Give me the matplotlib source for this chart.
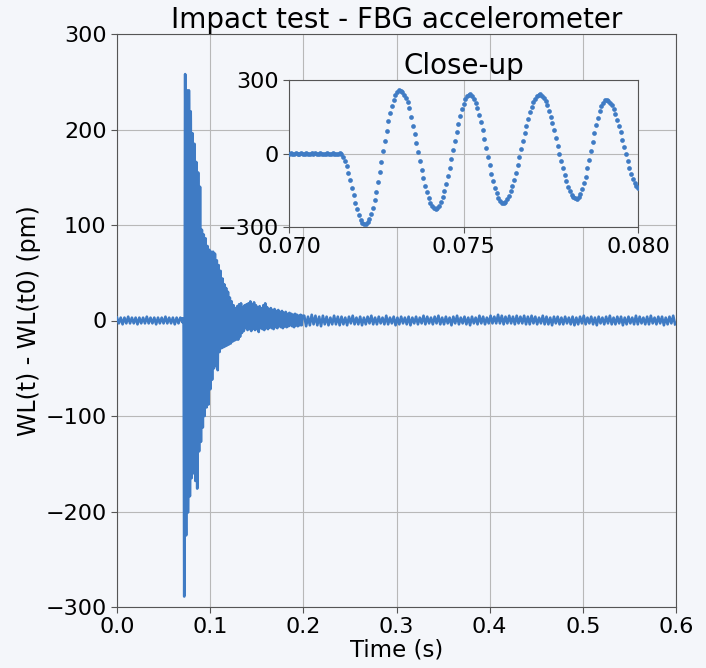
import numpy as np
import matplotlib
matplotlib.use("Agg")
import matplotlib.pyplot as plt

# ---------------- data ----------------
# baseline before the impact, sampled every 2 ms from t = 0
pre_noise = [3, -3, 3, -4, 3, -3, 4, -3, 3, -3, 3, -4, 3, -3, 3, -3, 4, -3, 3, -3,
             3, -4, 3, -3, 3, -3, 4, -3, 3, -3, 3, -4, 3, -3, 3]

# close-up samples 0.070 .. 0.080 s (20 kHz)
closeup_values = [
    0, 1, -1, 0, 2, -1, 0, 1, 0, -2, 1, 0, -1, 1, 0, 2, 0, -1, 1, 0, -1, 0, 1, -1, 0, 1, 0, -1, 0, 1,
    -3, -14, -30, -52, -78, -107, -139, -170, -201, -228, -252, -271, -283, -289,
    -289, -281, -268, -247, -222, -191, -156, -117, -76, -33, 10, 52, 93, 131, 165, 195, 220, 239, 251, 258,
    257, 251, 240, 228, 212, 186, 150, 113, 78, 42, 5, -31, -67, -100, -131, -158, -182, -200, -214, -222, -225,
    -222, -213, -199, -179, -154, -125, -93, -58, -22, 16, 53, 89, 122, 153, 180, 203, 221, 233, 240,
    241, 235, 224, 207, 185, 159, 128, 95, 60, 24, -13, -48, -82, -113, -140, -163, -181, -193, -200,
    -201, -196, -187, -173, -155, -133, -107, -79, -48, -16, 17, 50, 82, 113, 142, 168, 191, 210, 224, 235, 240,
    241, 236, 227, 214, 197, 175, 151, 124, 94, 63, 32, 0, -31, -61, -89, -114, -136, -154, -168, -178, -183,
    -184, -177, -165, -146, -122, -94, -61, -26, 10, 47, 83, 116, 146, 173, 193, 208, 217,
    219, 216, 208, 196, 180, 161, 138, 113, 86, 57, 28, -2, -31, -59, -84, -105, -122, -133, -142,
]

# decaying ringing after 0.080 s: one peak and one trough per 2 ms cycle
ring_peaks = [196, 185, 166, 155, 140, 95, 90, 86, 78, 74,
              72, 72, 70, 63, 58, 52, 44, 38, 34, 30,
              24, 20, 16, 13, 15, 17, 18, 14, 16, 17,
              18, 20, 17, 19, 16, 14, 15, 13, 16, 18,
              14, 12, 13, 11, 12, 10, 11, 9, 10, 8,
              9, 7, 8, 7, 6, 7, 6, 5, 6, 5]
ring_troughs = [-165, -160, -168, -176, -137, -127, -112, -100, -91, -88,
                -72, -62, -50, -47, -52, -33, -29, -28, -27, -26,
                -25, -24, -22, -21, -20, -20, -17, -13, -11, -8,
                -10, -9, -11, -8, -10, -9, -12, -8, -9, -10,
                -8, -9, -7, -8, -9, -7, -8, -6, -7, -8,
                -6, -7, -6, -5, -6, -7, -5, -6, -5, -5]

# baseline after the ringing, sampled every 2 ms from 0.201 s
post_noise = [
    5, -6, 4, -5, 6, -4, 5, -5, 4, -6, 5, -4, 4, -5, 3, -4, 5, -4, 4, -5,
    4, -4, 3, -5, 4, -3, 5, -4, 3, -4, 4, -5, 3, -4, 4, -3, 5, -4, 3, -4,
    4, -3, 3, -4, 5, -4, 3, -3, 4, -5, 3, -4, 4, -3, 3, -4, 4, -5, 3, -3,
    4, -4, 3, -3, 5, -4, 4, -3, 3, -4, 4, -3, 5, -4, 3, -4, 4, -3, 3, -5,
    4, -3, 5, -4, 3, -3, 4, -4, 3, -5, 4, -3, 3, -4, 5, -3, 4, -4, 3, -3,
    5, -3, 4, -3, 6, -3, 5, -4, 4, -3, 5, -3, 4, -4, 5, -3, 4, -3, 5, -4,
    4, -4, 5, -3, 4, -4, 3, -3, 5, -4, 4, -4, 3, -5, 4, -3, 4, -4, 3, -4,
    4, -3, 3, -4, 4, -5, 3, -4, 4, -3, 5, -4, 3, -3, 4, -4, 3, -5, 4, -3,
    3, -4, 4, -3, 5, -4, 3, -4, 4, -3, 4, -5, 3, -4, 4, -3, 3, -4, 5, -4,
    4, -3, 3, -4, 4, -4, 5, -3, 3, -4, 4, -3, 4, -5, 3, -4, 4, -3, 5, -4,
]

x_ticks = [0.0, 0.1, 0.2, 0.3, 0.4, 0.5, 0.6]
y_ticks = [-300, -200, -100, 0, 100, 200, 300]
inset_x_ticks = [0.070, 0.075, 0.080]
inset_y_ticks = [-300, 0, 300]

# ---------------- assemble series ----------------
t_pre = 0.002 * np.arange(len(pre_noise))
t_close = np.linspace(0.070, 0.080, len(closeup_values))
ring_v = np.empty(2 * len(ring_peaks))
ring_v[0::2] = ring_troughs
ring_v[1::2] = ring_peaks
t_ring = 0.0801 + 0.001 * np.arange(len(ring_v))
t_post = 0.201 + 0.002 * np.arange(len(post_noise))

t_all = np.concatenate([t_pre, t_close, t_ring, t_post])
v_all = np.concatenate([pre_noise, closeup_values, ring_v, post_noise])

# ---------------- style ----------------
bg = "#f4f6fa"
blue = "#3f7bc4"
spine_c = "#555555"
grid_c = "#b8b8b8"

plt.rcParams["font.family"] = ["DejaVu Sans"]

fig = plt.figure(figsize=(7.06, 6.68), dpi=100, facecolor=bg)
ax = fig.add_axes([117 / 706, 1 - 607 / 668, (676 - 117) / 706, (607 - 34) / 668])
ax.set_facecolor(bg)
ax.plot(t_all, v_all, color=blue, lw=1.9, zorder=3)
ax.set_xlim(0, 0.6)
ax.set_ylim(-300, 300)
ax.set_xticks(x_ticks)
ax.set_yticks(y_ticks)
ax.set_xticklabels([f"{v:.1f}" for v in x_ticks])
ax.tick_params(labelsize=16, color=spine_c, length=4)
ax.grid(True, color=grid_c, lw=0.8, zorder=0)
ax.set_axisbelow(True)
for s in ax.spines.values():
    s.set_color(spine_c)
ax.set_xlabel("Time (s)", fontsize=16.5, labelpad=1)
ax.set_ylabel("WL(t) - WL(t0) (pm)", fontsize=17, labelpad=3)
ax.set_title("Impact test - FBG accelerometer", fontsize=20, pad=3)

ins = fig.add_axes([289 / 706, 1 - 227 / 668, (638 - 289) / 706, (227 - 80) / 668])
ins.set_facecolor(bg)
ins.plot(t_close, closeup_values, "o", color=blue, ms=3.4, mew=0, zorder=3)
ins.set_xlim(0.070, 0.080)
ins.set_ylim(-300, 300)
ins.set_xticks(inset_x_ticks)
ins.set_xticklabels([f"{v:.3f}" for v in inset_x_ticks])
ins.set_yticks(inset_y_ticks)
ins.tick_params(labelsize=16, color=spine_c, length=4)
ins.grid(True, color=grid_c, lw=0.8, zorder=0)
ins.set_axisbelow(True)
for s in ins.spines.values():
    s.set_color(spine_c)
ins.set_title("Close-up", fontsize=20, pad=3)

fig.savefig("out.png", dpi=100, facecolor=bg)
